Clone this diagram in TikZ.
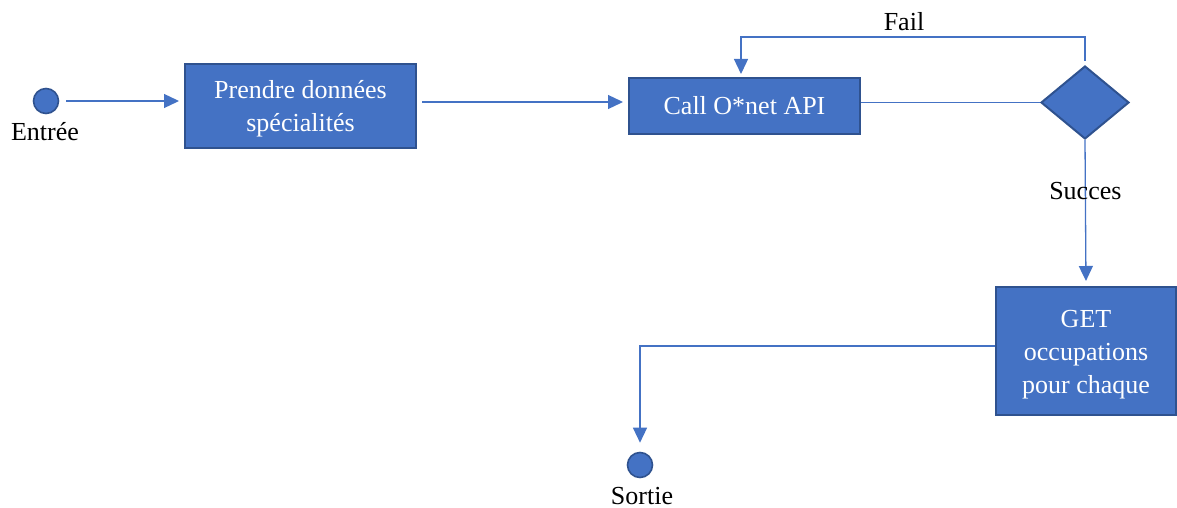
\documentclass[tikz,border=0pt]{standalone}
\usepackage{fontspec}
\setmainfont{Liberation Serif}
\usetikzlibrary{shapes.geometric,arrows.meta}
\definecolor{accent}{HTML}{4472C4}
\definecolor{accentdark}{HTML}{2F528F}
\begin{document}
\begin{tikzpicture}[x=0.5pt,y=-0.5pt,
  font=\fontsize{13}{16.6}\selectfont,
  stepbox/.style={rectangle,draw=accentdark,line width=1pt,fill=accent,
    text=white,align=center,inner sep=0pt},
  endpoint/.style={circle,draw=accentdark,line width=0.8pt,fill=accent,
    minimum size=12.5pt,inner sep=0pt},
  decision/.style={diamond,draw=accentdark,line width=1pt,fill=accent,
    minimum width=44pt,minimum height=36.5pt,inner sep=0pt},
  flow/.style={draw=accent,line width=0.65pt,
    -{Triangle[length=7.5pt,width=7pt]}},
  plain/.style={draw=accent,line width=0.65pt},
  lbl/.style={text=black,inner sep=0pt}]
\useasboundingbox (0,0) rectangle (1177,508);

% nodes
\node[endpoint] (in) at (46,101) {};
\node[lbl] (inlbl) at (45,132) {Entrée};
\node[stepbox,minimum width=115.5pt,minimum height=42pt] (b1) at (300.5,106)
  {\rule{0pt}{12pt}Prendre données\\spécialités};
\node[stepbox,minimum width=115.5pt,minimum height=28pt] (b2) at (744.5,106)
  {Call O*net API};
\node[decision] (dia) at (1085,102.5) {};
\node[stepbox,minimum width=90pt,minimum height=64pt] (b3) at (1086,351)
  {\rule{0pt}{12pt}GET\\occupations\\pour chaque};
\node[endpoint] (out) at (640,465) {};
\node[lbl] (outlbl) at (642,496) {Sortie};
\node[lbl] (faillbl) at (904,22) {Fail};

% connectors
\draw[flow,shorten <=3.5pt,shorten >=2.5pt] (in.east) -- (b1.west |- in.east);
\draw[flow,shorten <=2.5pt,shorten >=2.5pt]
  ([yshift=2pt]b1.east |- b2.west) -- ([yshift=2pt]b2.west);
\draw[plain] (dia.west -| b2.east) -- (dia.west);
\coordinate (failtop) at (1083,37);
\draw[flow,shorten >=1.5pt] ([yshift=2pt]dia.north) -- (dia.north |- failtop)
  -| ([xshift=-1.75pt]b2.north);
\draw[flow,shorten >=2.5pt] (dia.south) --
  node[lbl,pos=0.35] {Succes} (b3.north);
\draw[flow,shorten >=4.5pt] ([yshift=2.5pt]b3.west) -| (out.north);
\end{tikzpicture}
\end{document}
